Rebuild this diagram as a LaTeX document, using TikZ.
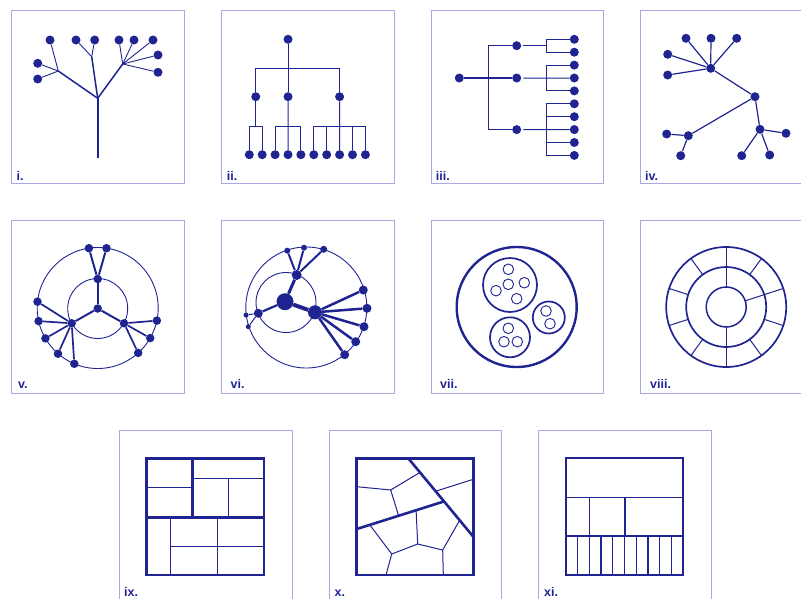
\documentclass[tikz,border=0pt]{standalone}
\usepackage{fontspec}
\setmainfont{Liberation Sans}
\usetikzlibrary{calc}

\definecolor{navy}{RGB}{32,36,145}
\definecolor{framec}{RGB}{168,168,226}

\begin{document}
\begin{tikzpicture}[x=1pt, y=-1pt,
    dot/.style={circle, fill=navy, inner sep=0pt, minimum size=#1},
    dot/.default=9pt,
    lnk/.style={draw=navy, line width=#1},
    lnk/.default=1pt,
    frame/.style={draw=framec, line width=0.9pt},
    lab/.style={anchor=base west, text=navy, inner sep=0pt,
                font=\bfseries\fontsize{12.5}{14}\selectfont}]

    % 画布大小
    \useasboundingbox (0,0) rectangle (801,598);
    \clip (0,0) rectangle (801,598);

    % 0. 外框与编号
    \foreach \fx/\fy in {11.5/10.7, 221.5/10.7, 431/10.7, 640.5/10.7,
                         11.5/220.7, 221.5/220.7, 431/220.7, 640.5/220.7,
                         119.5/430.7, 329/430.7, 538.5/430.7} {
        \draw[frame] (\fx,\fy) rectangle ++(172.5,172.5);
    }
    \foreach \t/\x/\y [count=\k] in {i./16.5/180, ii./226.7/180, iii./435.7/180, iv./645/180,
                                     v./18/388.5, vi./230.5/388.5, vii./440/388.5, viii./650/388.5,
                                     ix./124/596, x./334.5/596, xi./544/596} {
        \node[lab] (lab\k) at (\x,\y) {\t};
    }

    % 1. 树 i
    \coordinate (A0) at (97.7,158.3);
    \coordinate (A1) at (97.7,98.3);
    \coordinate (Af1) at (58.3,71);
    \coordinate (Af2) at (91.7,56.7);
    \coordinate (Af3) at (122.7,64);
    \foreach \x/\y [count=\k] in {50/40, 37.7/63.3, 37.7/79, 76/40, 94.7/40,
                                  119/40, 134/40, 153/40, 158/55, 158/72.3} {
        \node[dot] (Aa\k) at (\x,\y) {};
    }
    \draw[lnk=2.3pt] (A0) -- (A1);
    \foreach \f in {Af1,Af2,Af3} {
        \draw[lnk=1.5pt] (A1) -- (\f);
    }
    \foreach \f/\k in {Af1/1, Af1/2, Af1/3, Af2/4, Af2/5, Af3/6, Af3/7, Af3/8, Af3/9, Af3/10} {
        \draw[lnk=0.9pt] (\f) -- (Aa\k);
    }

    % 2. 树 ii
    \node[dot] (Br) at (288,39.3) {};
    \foreach \x [count=\k] in {255.75, 288, 339.6} {
        \node[dot] (Bm\k) at (\x,96.7) {};
    }
    \foreach \k in {1,...,10} {
        \node[dot] (Bl\k) at ({249.3+(\k-1)*12.9},154.7) {};
    }
    \coordinate (Bbar) at (0,68.3);
    \coordinate (Bbar2) at (0,126);
    \draw[lnk] (Br) -- (Bm2);
    \draw[lnk] (Bm1) |- (Bm3 |- Bbar) -- (Bm3);
    \draw[lnk] (Bl1) |- (Bl2 |- Bbar2) -- (Bl2);
    \draw[lnk] (Bm1) -- (Bm1 |- Bbar2);
    \draw[lnk] (Bl3) |- (Bl5 |- Bbar2) -- (Bl5);
    \draw[lnk] (Bm2) -- (Bl4);
    \draw[lnk] (Bl6) |- (Bl10 |- Bbar2) -- (Bl10);
    \draw[lnk] (Bm3) -- (Bl8);
    \foreach \k in {7,9} {
        \draw[lnk] (Bl\k) -- (Bl\k |- Bbar2);
    }

    % 3. 树 iii
    \node[dot] (Cr) at (459.3,78) {};
    \foreach \y [count=\k] in {45.7, 78, 129.6} {
        \node[dot] (Cm\k) at (516.7,\y) {};
    }
    \foreach \k in {1,...,10} {
        \node[dot] (Cl\k) at (574.3,{39.3+(\k-1)*12.9}) {};
    }
    \coordinate (Cx1) at (488.3,0);
    \coordinate (Cx2) at (546,0);
    \draw[lnk=1.6pt] (Cr) -- (Cm2);
    \draw[lnk] (Cm1) -| (Cx1 |- Cm3) -- (Cm3);
    \draw[lnk] (Cl1) -| (Cx2 |- Cl2) -- (Cl2);
    \draw[lnk, shorten <=2pt] (Cm1) -- (Cm1 -| Cx2);
    \draw[lnk] (Cl3) -| (Cx2 |- Cl5) -- (Cl5);
    \draw[lnk, shorten <=2pt] (Cm2) -- (Cl4);
    \draw[lnk] (Cl6) -| (Cx2 |- Cl10) -- (Cl10);
    \draw[lnk, shorten <=2pt] (Cm3) -- (Cl8);
    \foreach \k in {7,9} {
        \draw[lnk] (Cl\k) -- (Cl\k -| Cx2);
    }

    % 4. 树 iv
    \node[dot] (Da) at (710.7,68.3) {};
    \node[dot] (Db) at (755,96.7) {};
    \node[dot] (Dc) at (688.3,135.7) {};
    \node[dot] (Dd) at (760,129.3) {};
    \foreach \x/\y [count=\k] in {686/38.3, 711/38.3, 736.7/38.3, 667.7/54.3, 667.7/75} {
        \node[dot] (Da\k) at (\x,\y) {};
        \draw[lnk=1.2pt] (Da) -- (Da\k);
    }
    \foreach \x/\y [count=\k] in {666.7/134, 680.7/155.7} {
        \node[dot] (Dc\k) at (\x,\y) {};
        \draw[lnk=1.2pt] (Dc) -- (Dc\k);
    }
    \foreach \x/\y [count=\k] in {786/133.3, 741.7/155.7, 769.7/155} {
        \node[dot] (Dd\k) at (\x,\y) {};
        \draw[lnk=1.2pt] (Dd) -- (Dd\k);
    }
    \draw[lnk=1.2pt] (Da) -- (Db);
    \draw[lnk=1.2pt] (Db) -- (Dc);
    \draw[lnk=1.2pt] (Db) -- (Dd);

    % 5. 径向图 v
    \draw[navy, line width=0.9pt] (97.7,308) circle[radius=60.5pt];
    \draw[navy, line width=0.9pt] (97.7,308.5) circle[radius=30pt];
    \node[dot=8.5pt] (Ec) at (97.7,308.5) {};
    \node[dot=8.5pt] (Et) at (97.7,279) {};
    \node[dot=8.5pt] (El) at (71.7,323.3) {};
    \node[dot=8.5pt] (Er) at (124,323.3) {};
    \foreach \m in {Et,El,Er} {
        \draw[lnk=2pt] (Ec) -- (\m);
    }
    \foreach \x/\y [count=\k] in {88.9/248.2, 106.5/248.2} {
        \node[dot=8.5pt] (Et\k) at (\x,\y) {};
        \draw[lnk=2pt] (Et) -- (Et\k);
    }
    \foreach \x/\y [count=\k] in {37.5/301.7, 38.6/321.1, 45.4/338.4, 58/353.7, 74.3/363.8} {
        \node[dot=8.5pt] (El\k) at (\x,\y) {};
        \draw[lnk=1.7pt] (El) -- (El\k);
    }
    \foreach \x/\y [count=\k] in {156.9/320.6, 150.2/338.1, 138.2/352.9} {
        \node[dot=8.5pt] (Er\k) at (\x,\y) {};
        \draw[lnk=1.7pt] (Er) -- (Er\k);
    }

    % 6. 径向图 vi
    \draw[navy, line width=0.9pt] (306.3,307.5) circle[radius=60.5pt];
    \draw[navy, line width=0.9pt] (286,302.5) circle[radius=30pt];
    \node[dot=17pt] (Fm) at (285,301.7) {};
    \node[dot=10pt] (Fa) at (296.7,275) {};
    \node[dot=9pt] (Fb) at (258.3,313.3) {};
    \node[dot=14pt] (Fc) at (315,312.3) {};
    \draw[lnk=3pt] (Fm) -- (Fa);
    \draw[lnk=2.2pt] (Fm) -- (Fb);
    \draw[lnk=4pt] (Fm) -- (Fc);
    \foreach \x/\y/\s [count=\k] in {287.3/250.7/6, 304/247.7/6, 323.7/249.3/7} {
        \node[dot=\s pt] (Fa\k) at (\x,\y) {};
        \draw[lnk=2pt] (Fa) -- (Fa\k);
    }
    \foreach \x/\y [count=\k] in {246/315, 248.3/326.7} {
        \node[dot=5pt] (Fb\k) at (\x,\y) {};
        \draw[lnk=1pt] (Fb) -- (Fb\k);
    }
    \foreach \x/\y [count=\k] in {363.3/290, 367/308.3, 364/326.7, 355.7/341.7, 344.7/354.7} {
        \node[dot=9pt] (Fc\k) at (\x,\y) {};
        \draw[lnk=2.5pt] (Fc) -- (Fc\k);
    }

    % 7. 嵌套圆 vii
    \draw[navy, line width=2.4pt] (516.7,307) circle[radius=60pt];
    \draw[navy, line width=1.7pt] (510,285) circle[radius=27pt];
    \draw[navy, line width=1.7pt] (548.8,317.5) circle[radius=16pt];
    \draw[navy, line width=1.7pt] (510,337.3) circle[radius=20pt];
    \foreach \x/\y in {508.3/269.3, 508.3/284.3, 524.3/282.7, 496/290.7, 516.7/298.7,
                       546/311, 550/323.7,
                       508.3/328.3, 504/341.7, 517.3/341.7} {
        \draw[navy, line width=0.9pt] (\x,\y) circle[radius=5.3pt];
    }

    % 8. 环形 viii
    \begin{scope}[shift={(726.2,307)}]
        \draw[navy, line width=1.7pt] (0,0) circle[radius=60pt];
        \draw[navy, line width=1.7pt] (0,0) circle[radius=40pt];
        \draw[navy, line width=1.5pt] (0,0) circle[radius=20pt];
        \foreach \a in {18,54,...,342} {
            \draw[navy, line width=1pt] (\a:40pt) -- (\a:60pt);
        }
        \foreach \a in {18,90,270} {
            \draw[navy, line width=1pt] (\a:20pt) -- (\a:40pt);
        }
    \end{scope}

    % 9. 矩形树图 ix
    \draw[navy, line width=1pt] (146.7,487.3) -- (192.7,487.3);
    \draw[navy, line width=1pt] (192.7,478.3) -- (264,478.3);
    \draw[navy, line width=1pt] (228.7,478.3) -- (228.7,517.3);
    \draw[navy, line width=1pt] (170.3,517.3) -- (170.3,575);
    \draw[navy, line width=1pt] (217.3,517.3) -- (217.3,575);
    \draw[navy, line width=1pt] (170.3,546) -- (264,546);
    \draw[navy, line width=2.6pt] (146.7,517.3) -- (264,517.3);
    \draw[navy, line width=2.6pt] (192.7,458.3) -- (192.7,517.3);
    \draw[navy, line width=2.6pt] (146.7,458.3) rectangle (264,575);

    % 10. Voronoi 树图 x
    \coordinate (Xt) at (408.3,458.3);
    \coordinate (Xr) at (473.3,536.7);
    \coordinate (Xl) at (356.7,529);
    \coordinate (Xj) at ($(Xt)!0.55!(Xr)$);
    \coordinate (Xa) at (390.7,490);
    \coordinate (Xb) at (391.7,554);
    \coordinate (Xc) at (417.7,544);
    \coordinate (Xd) at (442.7,550);
    \draw[navy, line width=1pt] (356.7,486.7) -- (Xa) -- ($(Xt)!0.18!(Xr)$);
    \draw[navy, line width=1pt] (Xa) -- ($(Xl)!0.48!(Xj)$);
    \draw[navy, line width=1pt] ($(Xt)!0.42!(Xr)$) -- (473.3,479.3);
    \draw[navy, line width=1pt] ($(Xl)!0.15!(Xj)$) -- (Xb) -- (Xc) -- (Xd) -- ($(Xt)!0.79!(Xr)$);
    \draw[navy, line width=1pt] (Xc) -- ($(Xl)!0.68!(Xj)$);
    \draw[navy, line width=1pt] (Xb) -- (386,575);
    \draw[navy, line width=1pt] (Xd) -- (443.3,575);
    \draw[navy, line width=2.6pt] (Xt) -- (Xr);
    \draw[navy, line width=2.6pt] (Xl) -- (Xj);
    \draw[navy, line width=2.6pt] (356.7,458.3) rectangle (473.3,575);

    % 11. 冰柱图 xi
    \draw[navy, line width=1.4pt] (565.7,497.3) -- (683.3,497.3);
    \draw[navy, line width=1.4pt] (565.7,536) -- (683.3,536);
    \draw[navy, line width=1.4pt] (589.2,497.3) -- (589.2,536);
    \draw[navy, line width=1.4pt] (625,497.3) -- (625,536);
    \foreach \k in {1,...,9} {
        \draw[navy, line width=1.4pt] ({565.7+\k*11.76},536) -- ({565.7+\k*11.76},575);
    }
    \draw[navy, line width=1.7pt] (565.7,458.3) rectangle (683.3,575);

\end{tikzpicture}
\end{document}
